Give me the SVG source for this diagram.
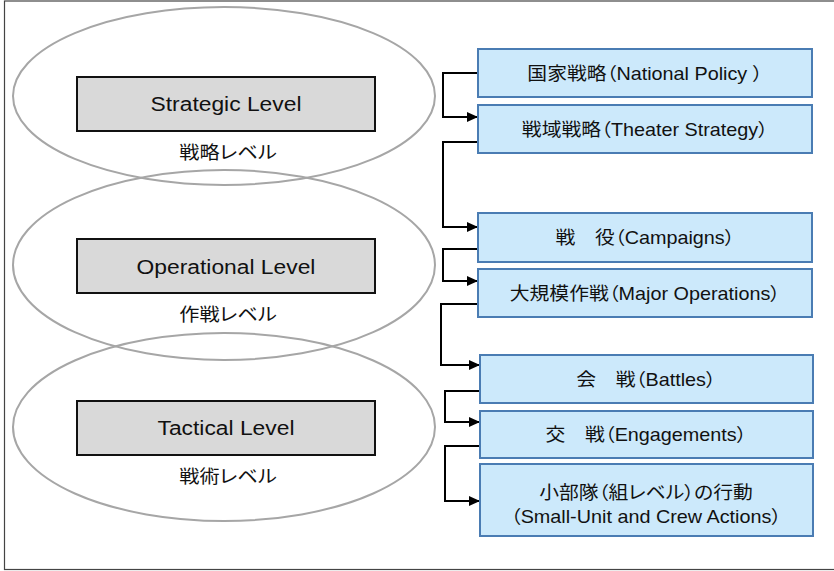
<svg xmlns="http://www.w3.org/2000/svg" width="834" height="571" viewBox="0 0 834 571">
<style>
.frame{fill:#fff;stroke:#444;stroke-width:1.2}
.ell{fill:none;stroke:#a6a6a6;stroke-width:2}
.lvl{fill:#d9d9d9;stroke:#111;stroke-width:2}
.blue{fill:#cce9fb;stroke:#4a7cb3;stroke-width:2}
.t{font-family:"Liberation Sans","Noto Sans CJK JP",sans-serif;fill:#111;text-anchor:middle;font-feature-settings:"palt"}
.lt{font-size:19.5px}
.jt{font-size:18px}
.bt{font-size:18px}
.con{fill:none;stroke:#000;stroke-width:2;marker-end:url(#ah)}
</style>
<defs>
<marker id="ah" markerUnits="userSpaceOnUse" markerWidth="12" markerHeight="10" refX="11" refY="5" orient="auto">
<path d="M0,0 L11,5 L0,10 z" fill="#000"/>
</marker>
</defs>
<rect class="frame" x="4.5" y="1" width="840" height="568.5"/>
<g id="ellipses">
<ellipse class="ell" cx="224" cy="96" rx="211" ry="89"/>
<ellipse class="ell" cx="224" cy="265" rx="211" ry="95"/>
<ellipse class="ell" cx="224" cy="427" rx="211" ry="94"/>
</g>
<g id="strategic">
<rect class="lvl" x="77" y="77" width="298" height="54"/>
<text class="t lt" transform="translate(226,111) scale(1.17,1)">Strategic Level</text>
<text class="t jt" transform="translate(228,159) scale(1.12,1)">戦略レベル</text>
</g>
<g id="operational">
<rect class="lvl" x="77" y="239" width="298" height="54"/>
<text class="t lt" transform="translate(226,274) scale(1.17,1)">Operational Level</text>
<text class="t jt" transform="translate(228,321) scale(1.12,1)">作戦レベル</text>
</g>
<g id="tactical">
<rect class="lvl" x="77" y="401" width="298" height="54"/>
<text class="t lt" transform="translate(226,435) scale(1.17,1)">Tactical Level</text>
<text class="t jt" transform="translate(228,483) scale(1.12,1)">戦術レベル</text>
</g>
<g id="connectors">
<path class="con" d="M478,73 H443 V117 H478"/>
<path class="con" d="M478,142 H443 V227 H478"/>
<path class="con" d="M478,249 H443 V281 H478"/>
<path class="con" d="M478,304 H441 V365 H480"/>
<path class="con" d="M480,391 H445 V422 H480"/>
<path class="con" d="M480,446 H445 V501 H480"/>
</g>
<g id="national-policy">
<rect class="blue" x="478" y="49" width="334" height="48"/>
<text class="t bt" transform="translate(645,80) scale(1.1,1)">国家戦略（National Policy ）</text>
</g>
<g id="theater-strategy">
<rect class="blue" x="478" y="105" width="334" height="48"/>
<text class="t bt" transform="translate(645,136) scale(1.1,1)">戦域戦略（Theater Strategy）</text>
</g>
<g id="campaigns">
<rect class="blue" x="478" y="213" width="334" height="49"/>
<text class="t bt" transform="translate(645,244) scale(1.1,1)">戦　役（Campaigns）</text>
</g>
<g id="major-operations">
<rect class="blue" x="478" y="269" width="334" height="48"/>
<text class="t bt" transform="translate(645,300) scale(1.1,1)">大規模作戦（Major Operations）</text>
</g>
<g id="battles">
<rect class="blue" x="480" y="355" width="333" height="48"/>
<text class="t bt" transform="translate(646,386) scale(1.1,1)">会　戦（Battles）</text>
</g>
<g id="engagements">
<rect class="blue" x="480" y="411" width="333" height="47"/>
<text class="t bt" transform="translate(646,441) scale(1.1,1)">交　戦（Engagements）</text>
</g>
<g id="small-unit">
<rect class="blue" x="480" y="464" width="333" height="72"/>
<text class="t bt" transform="translate(646,499) scale(1.1,1)">小部隊（組レベル）の行動</text>
<text class="t bt" transform="translate(646,523) scale(1.1,1)">（Small-Unit and Crew Actions）</text>
</g>
</svg>
